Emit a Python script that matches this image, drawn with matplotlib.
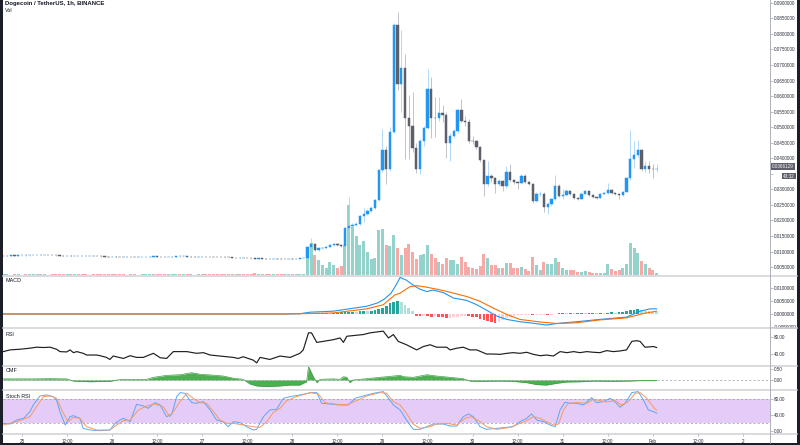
import numpy as np
import matplotlib
matplotlib.use("Agg")
import matplotlib.pyplot as plt
from matplotlib.patches import Rectangle
from matplotlib.lines import Line2D

plt.rcParams['font.family'] = ['Liberation Sans', 'DejaVu Sans']

# ---------------- data (hours counted from 25 Jan 00:00) ----------------
first_hour = -5
first_open = 0.00866

closes_before = [
    0.00868, 0.00870, 0.00873, 0.00872, 0.00875, 0.00877, 0.00876, 0.00879, 0.00881, 0.00883,
    0.00882, 0.00884, 0.00883, 0.00880, 0.00876, 0.00868, 0.00866, 0.00871, 0.00863, 0.00865,
    0.00860, 0.00856, 0.00852, 0.00853, 0.00850, 0.00848, 0.00845, 0.00838, 0.00832, 0.00840,
    0.00837, 0.00834, 0.00830, 0.00836, 0.00833, 0.00830, 0.00829, 0.00831, 0.00834, 0.00838,
    0.00841, 0.00830, 0.00826, 0.00824, 0.00832, 0.00840, 0.00842, 0.00841, 0.00843, 0.00840,
    0.00838, 0.00835, 0.00836, 0.00832, 0.00828, 0.00825, 0.00823, 0.00820, 0.00816, 0.00812,
    0.00810, 0.00806, 0.00800, 0.00803, 0.00798, 0.00790, 0.00780, 0.00768, 0.00778, 0.00775,
    0.00770, 0.00768, 0.00774, 0.00772, 0.00770, 0.00768, 0.00772, 0.00770, 0.00775, 0.00780,
    0.00782]
closes_rally = [
    0.0114, 0.0125, 0.0106, 0.0110, 0.0112, 0.0116, 0.0120, 0.0124, 0.0121, 0.0118,
    0.0175, 0.0183, 0.0186, 0.0190, 0.0215, 0.0222, 0.0231, 0.0241, 0.0265, 0.0361,
    0.0428, 0.0366, 0.0486, 0.0827, 0.0640, 0.0690, 0.0529, 0.0505, 0.0433, 0.0364,
    0.0456, 0.0497, 0.0622, 0.0531, 0.0528, 0.0545, 0.0540, 0.0449, 0.0473, 0.0488,
    0.0555, 0.0520, 0.0518, 0.0456, 0.0454, 0.0435, 0.0393, 0.0318, 0.0343, 0.0336,
    0.0316, 0.0327, 0.0311, 0.0355, 0.0329, 0.0323, 0.0321, 0.0343, 0.0324, 0.0318,
    0.0263, 0.0284, 0.0286, 0.0244, 0.0252, 0.0268, 0.0311, 0.0279, 0.0282, 0.0295,
    0.0286, 0.0273, 0.0270, 0.0286, 0.0295, 0.0282, 0.0276, 0.0273, 0.0286, 0.0288,
    0.0297, 0.0288, 0.0284, 0.0282, 0.0293, 0.0337, 0.0399, 0.0412, 0.0428, 0.0364,
    0.0375, 0.0367, 0.0364, 0.0366]

highs_before = [
    0.00876, 0.00877, 0.00880, 0.00879, 0.00882, 0.00884, 0.00883, 0.00886, 0.00888, 0.00890,
    0.00889, 0.00891, 0.00890, 0.00888, 0.00884, 0.00878, 0.00873, 0.00877, 0.00873, 0.00871,
    0.00867, 0.00862, 0.00858, 0.00859, 0.00856, 0.00854, 0.00851, 0.00847, 0.00841, 0.00846,
    0.00843, 0.00840, 0.00837, 0.00842, 0.00839, 0.00836, 0.00835, 0.00837, 0.00840, 0.00844,
    0.00847, 0.00842, 0.00832, 0.00830, 0.00838, 0.00846, 0.00848, 0.00847, 0.00849, 0.00846,
    0.00844, 0.00841, 0.00842, 0.00838, 0.00834, 0.00831, 0.00829, 0.00826, 0.00822, 0.00818,
    0.00816, 0.00812, 0.00807, 0.00809, 0.00805, 0.00799, 0.00791, 0.00781, 0.00784, 0.00781,
    0.00777, 0.00774, 0.00780, 0.00778, 0.00776, 0.00774, 0.00778, 0.00776, 0.00781, 0.00786,
    0.00790]
highs_rally = [
    0.0118, 0.0143, 0.0128, 0.0113, 0.0115, 0.0119, 0.0123, 0.0127, 0.0127, 0.0123,
    0.0178, 0.0276, 0.0192, 0.0196, 0.0218, 0.0241, 0.0236, 0.0245, 0.0268, 0.0365,
    0.0494, 0.0440, 0.0500, 0.0835, 0.0869, 0.0811, 0.0736, 0.0604, 0.0612, 0.0450,
    0.0462, 0.0505, 0.0688, 0.0662, 0.0598, 0.0598, 0.0570, 0.0548, 0.0480, 0.0495,
    0.0560, 0.0592, 0.0535, 0.0525, 0.0470, 0.0458, 0.0438, 0.0395, 0.0390, 0.0350,
    0.0340, 0.0332, 0.0330, 0.0375, 0.0380, 0.0332, 0.0328, 0.0348, 0.0350, 0.0326,
    0.0322, 0.0292, 0.0295, 0.0290, 0.0258, 0.0272, 0.0346, 0.0318, 0.0300, 0.0300,
    0.0298, 0.0288, 0.0276, 0.0290, 0.0299, 0.0298, 0.0284, 0.0279, 0.0289, 0.0292,
    0.0321, 0.0300, 0.0290, 0.0287, 0.0296, 0.0340, 0.0492, 0.0454, 0.0460, 0.0431,
    0.0390, 0.0390, 0.0380, 0.0380]

lows_before = [
    0.00862, 0.00864, 0.00866, 0.00866, 0.00869, 0.00871, 0.00870, 0.00872, 0.00875, 0.00877,
    0.00876, 0.00878, 0.00877, 0.00874, 0.00870, 0.00862, 0.00860, 0.00864, 0.00857, 0.00858,
    0.00854, 0.00850, 0.00846, 0.00847, 0.00844, 0.00842, 0.00839, 0.00832, 0.00826, 0.00831,
    0.00831, 0.00828, 0.00824, 0.00829, 0.00827, 0.00824, 0.00823, 0.00825, 0.00828, 0.00832,
    0.00835, 0.00824, 0.00820, 0.00818, 0.00823, 0.00832, 0.00836, 0.00835, 0.00837, 0.00834,
    0.00832, 0.00829, 0.00830, 0.00826, 0.00822, 0.00819, 0.00817, 0.00814, 0.00810, 0.00806,
    0.00804, 0.00800, 0.00794, 0.00796, 0.00792, 0.00784, 0.00774, 0.00760, 0.00765, 0.00768,
    0.00764, 0.00762, 0.00766, 0.00766, 0.00764, 0.00762, 0.00765, 0.00764, 0.00768, 0.00773,
    0.00776]
lows_rally = [
    0.0077, 0.0108, 0.0102, 0.0103, 0.0107, 0.0110, 0.0114, 0.0118, 0.0118, 0.0115,
    0.0116, 0.0172, 0.0178, 0.0183, 0.0186, 0.0194, 0.0218, 0.0228, 0.0238, 0.0262,
    0.0355, 0.0316, 0.0360, 0.0480, 0.0620, 0.0550, 0.0396, 0.0396, 0.0420, 0.0353,
    0.0348, 0.0440, 0.0495, 0.0465, 0.0467, 0.0520, 0.0515, 0.0401, 0.0390, 0.0465,
    0.0480, 0.0515, 0.0505, 0.0450, 0.0445, 0.0430, 0.0388, 0.0279, 0.0312, 0.0325,
    0.0289, 0.0312, 0.0295, 0.0305, 0.0325, 0.0318, 0.0300, 0.0318, 0.0320, 0.0314,
    0.0257, 0.0258, 0.0278, 0.0226, 0.0220, 0.0248, 0.0265, 0.0275, 0.0268, 0.0280,
    0.0283, 0.0270, 0.0265, 0.0268, 0.0284, 0.0279, 0.0273, 0.0270, 0.0271, 0.0284,
    0.0285, 0.0285, 0.0281, 0.0268, 0.0280, 0.0290, 0.0330, 0.0369, 0.0405, 0.0359,
    0.0355, 0.0353, 0.0337, 0.0356]

# volume in millions of DOGE
volumes_before = [
    25, 22, 18, 28, 25, 18, 22, 25, 30, 28,
    25, 22, 18, 25, 33, 42, 30, 25, 36, 28,
    25, 22, 25, 18, 22, 25, 28, 36, 42, 30,
    25, 22, 25, 18, 22, 25, 18, 22, 28, 33,
    30, 36, 33, 28, 36, 42, 30, 25, 22, 25,
    22, 18, 22, 25, 28, 25, 22, 25, 28, 30,
    28, 30, 36, 28, 30, 42, 55, 65, 42, 30,
    28, 33, 36, 30, 28, 30, 33, 36, 42, 48,
    55]
volumes_rally = [
    1133, 1267, 800, 600, 400, 267, 507, 400, 293, 373,
    1200, 2800, 1933, 1560, 1200, 1373, 907, 627, 667, 1800,
    1840, 1200, 1160, 1600, 1067, 800, 1067, 1240, 933, 627,
    800, 840, 1200, 840, 667, 507, 427, 693, 600, 600,
    440, 707, 533, 333, 293, 227, 360, 827, 667, 387,
    387, 293, 267, 480, 467, 267, 267, 320, 227, 160,
    720, 387, 213, 520, 427, 427, 693, 520, 293, 187,
    200, 200, 133, 133, 160, 133, 93, 93, 93, 93,
    427, 227, 160, 187, 293, 427, 1267, 1093, 893, 560,
    427, 267, 187, 67]

# MACD (12, 26, 9)
macd_hours = [-5, 20, 50, 70, 74, 76.7, 82.9, 91.8, 94.7, 96.5, 98.3, 99.6, 100.7, 102.4, 104.2,
              106.0, 107.8, 109.5, 112.2, 114.9, 118.4, 121.1, 123.7, 126.4, 129.1, 132.6, 136.2,
              139.7, 142.4, 147.7, 153.9, 161.0, 164.6, 167.3, 169.0]
macd_line = [0.0, 0.0, 0.0, 0.0, 0.0001, 0.0007, 0.0011, 0.0030, 0.0043, 0.0058, 0.0081, 0.0112,
             0.0142, 0.0131, 0.0112, 0.0096, 0.0087, 0.0093, 0.0083, 0.0062, 0.0053, 0.0036, 0.0015,
             -0.0008, -0.0021, -0.0030, -0.0036, -0.0043, -0.0037, -0.0030, -0.0021, -0.0012,
             0.0011, 0.0020, 0.0020]
signal_hours = [-5, 20, 50, 70, 76.7, 82.9, 91.8, 96.2, 99.3, 100.7, 103.3, 105.1, 107.8, 112.2,
                118.4, 122.0, 125.5, 129.1, 132.6, 138.0, 142.4, 147.7, 153.9, 161.0, 165.5, 169.0]
signal_line = [0.0, 0.0, 0.0, 0.0, 0.0002, 0.0004, 0.0020, 0.0036, 0.0074, 0.0081, 0.0106, 0.0110,
               0.0104, 0.0091, 0.0068, 0.0049, 0.0023, -0.0002, -0.0021, -0.0031, -0.0037, -0.0034,
               -0.0023, -0.0015, 0.0002, 0.0011]
hist_first_hour = 76
hist_values = [
    0.0001, 0.0002, 0.0002, 0.0003, 0.0004, 0.0004, 0.0003, 0.0004, 0.0005, 0.0006,
    0.0008, 0.0009, 0.0009, 0.0008, 0.0010, 0.0011, 0.0010, 0.0012, 0.0016, 0.0020,
    0.0025, 0.0031, 0.0042, 0.0048, 0.0050, 0.0046, 0.0036, 0.0023, 0.0010, -0.0006,
    -0.0008, -0.0007, -0.0009, -0.0010, -0.0009, -0.0011, -0.0013, -0.0015, -0.0014, -0.0012,
    -0.0010, -0.0008, -0.0007, -0.0008, -0.0010, -0.0013, -0.0018, -0.0024, -0.0029, -0.0033,
    -0.0035, -0.0031, -0.0024, -0.0017, -0.0011, -0.0007, -0.0005, -0.0004, -0.0004, -0.0003,
    -0.0005, -0.0004, -0.0003, -0.0002, -0.0003, -0.0002, -0.0001, 0.0002, 0.0004, 0.0003,
    0.0004, 0.0003, 0.0004, 0.0005, 0.0004, 0.0004, 0.0005, 0.0004, 0.0005, 0.0004,
    0.0005, 0.0006, 0.0005, 0.0006, 0.0008, 0.0011, 0.0014, 0.0016, 0.0018, 0.0017,
    0.0013, 0.0010, 0.0008, 0.0007]

# RSI (14)
rsi_hours = [-5.0, -3.2, -0.5, 2.1, 3.9, 5.7, 7.5, 8.3, 9.2, 10.1, 11.9, 12.8, 13.7, 14.6, 16.3,
             17.2, 19.9, 20.8, 22.5, 23.4, 24.3, 27.0, 28.8, 30.5, 32.3, 33.2, 35.0, 36.8, 38.5,
             40.3, 42.1, 43.9, 46.5, 48.3, 50.1, 52.7, 56.3, 57.6, 58.9, 61.6, 62.5, 63.4, 66.0,
             68.7, 71.4, 74.0, 74.9, 76.3, 77.1, 78.5, 80.2, 82.9, 84.7, 85.6, 86.5, 88.2, 90.9,
             92.7, 96.2, 97.6, 98.9, 100.2, 102.4, 105.1, 106.9, 108.7, 110.4, 113.1, 114.0,
             115.8, 117.5, 119.3, 121.1, 123.7, 125.5, 127.3, 129.1, 130.8, 132.6, 134.4, 136.2,
             138.0, 139.7, 141.5, 143.3, 145.1, 146.9, 148.6, 150.4, 152.2, 153.9, 155.7, 157.5,
             159.3, 161.0, 162.4, 163.7, 164.6, 165.9, 168.2, 169.0]
rsi_values = [45.7, 49.8, 51.4, 53.9, 56.3, 55.5, 56.3, 53.9, 51.4, 45.7, 44.9, 49.8, 43.2, 45.7,
              41.6, 37.5, 37.5, 35.9, 31.8, 26.9, 35.1, 29.3, 35.9, 31.8, 31.8, 35.1, 41.6, 31.0,
              29.3, 45.7, 45.7, 45.7, 41.6, 43.2, 37.5, 35.1, 31.8, 29.3, 33.4, 25.2, 18.7, 31.8,
              26.9, 35.1, 31.8, 41.6, 49.8, 90.7, 90.7, 67.8, 70.2, 74.3, 78.4, 67.8, 82.5, 84.1,
              86.6, 90.7, 94.8, 78.4, 86.6, 70.2, 62.1, 49.8, 57.9, 62.1, 56.3, 56.3, 49.8, 53.9,
              56.3, 49.8, 49.8, 39.9, 39.9, 39.1, 41.6, 43.2, 41.6, 44.1, 39.1, 35.9, 37.5, 35.1,
              45.7, 43.2, 45.7, 43.2, 45.7, 44.1, 43.2, 48.1, 45.7, 47.3, 49.8, 70.2, 71.9, 70.2,
              56.3, 57.9, 55.5]

# Chaikin money flow (20)
cmf_hours = [-5.0, 3.0, 7.5, 11.9, 13.7, 18.1, 23.4, 26.1, 33.2, 35.0, 38.5, 42.1, 45.2, 47.4,
             50.1, 53.6, 56.3, 58.9, 60.7, 62.5, 65.2, 68.7, 71.4, 74.0, 74.9, 75.8, 76.3, 77.6,
             78.5, 79.4, 82.9, 84.7, 85.6, 86.5, 87.3, 88.2, 91.8, 95.3, 98.9, 100.7, 101.6,
             104.2, 107.8, 110.4, 114.0, 117.5, 119.3, 122.0, 127.3, 130.8, 134.4, 137.1, 139.7,
             142.4, 145.1, 148.6, 152.2, 157.5, 161.0, 164.6, 169.0]
cmf_values = [0.05, 0.05, 0.06, 0.05, -0.05, -0.08, -0.06, 0.02, 0.03, 0.12, 0.21, 0.24, 0.33,
              0.26, 0.23, 0.18, 0.08, 0.03, -0.18, -0.27, -0.30, -0.27, -0.23, -0.23, -0.15,
              -0.08, 0.61, 0.15, -0.12, 0.03, 0.05, 0.03, 0.15, 0.12, -0.12, 0.0, 0.06, 0.12,
              0.18, 0.21, 0.15, 0.12, 0.24, 0.18, 0.12, 0.06, -0.05, -0.06, -0.05, -0.06, -0.12,
              -0.21, -0.23, -0.15, -0.09, -0.08, -0.05, -0.06, -0.05, -0.03, -0.03]

# Stochastic RSI (3, 3, 14, 14)
k_hours = [-5.0, -3.2, -1.4, 0.4, 2.1, 3.0, 4.8, 6.6, 8.3, 9.2,
           10.1, 11.5, 12.8, 13.7, 15.4, 16.3, 18.1, 20.8, 23.4, 24.8,
           26.1, 27.0, 28.8, 30.5, 32.3, 33.6, 35.4, 36.8, 38.5, 39.9,
           41.2, 42.1, 43.4, 45.2, 46.5, 48.3, 50.1, 51.8, 53.6, 54.9,
           56.3, 58.1, 59.8, 61.6, 62.5, 64.3, 66.0, 67.8, 69.6, 71.4,
           74.0, 77.1, 78.5, 79.8, 82.0, 84.7, 86.9, 88.7, 90.9, 93.6,
           96.2, 97.6, 98.9, 100.7, 102.4, 104.2, 106.0, 107.8, 109.5, 112.2,
           114.0, 115.8, 117.5, 118.9, 120.2, 122.0, 123.7, 126.4, 129.1, 130.8,
           132.6, 134.4, 135.7, 137.1, 138.9, 140.6, 142.0, 143.3, 144.6, 146.0,
           147.7, 149.5, 151.7, 153.0, 154.8, 156.6, 157.9, 159.3, 160.6, 162.4,
           164.1, 165.5, 166.8, 168.2, 169.0]
k_values = [18.7, 17.0, 27.2, 31.5, 48.5, 65.5, 88.5, 91.1, 86.8, 78.3,
            48.5, 14.5, 35.7, 38.3, 31.5, 6.0, 1.7, 0.0, 1.7, 18.7,
            27.2, 31.5, 23.0, 67.2, 63.0, 57.0, 71.5, 65.5, 35.7, 42.6,
            86.8, 97.0, 95.3, 71.5, 69.8, 74.0, 52.8, 27.2, 23.0, 10.2,
            23.0, 20.4, 10.2, 1.7, 3.4, 35.7, 52.8, 54.5, 82.5, 86.8,
            91.1, 97.0, 97.0, 69.8, 68.1, 65.5, 65.5, 82.5, 88.5, 95.3,
            99.6, 82.5, 65.5, 52.8, 27.2, 3.4, 3.4, 10.2, 17.0, 17.0,
            11.9, 11.9, 35.7, 42.6, 35.7, 10.2, 3.4, 6.0, 8.5, 10.2,
            23.0, 31.5, 42.6, 27.2, 23.0, 14.5, 10.2, 52.8, 72.3, 69.8,
            69.8, 65.5, 84.2, 71.5, 74.0, 82.5, 74.0, 59.6, 69.8, 97.0,
            99.6, 78.3, 52.8, 48.5, 44.3]
d_hours = [-5.0, -1.4, 2.1, 3.9, 5.7, 7.5, 9.2, 11.0, 12.3, 13.7,
           15.4, 17.2, 19.9, 23.4, 25.2, 27.0, 28.8, 31.0, 33.2, 35.4,
           37.6, 39.4, 42.1, 43.9, 45.6, 47.4, 49.2, 51.0, 52.7, 54.5,
           56.3, 58.9, 61.6, 63.4, 65.2, 66.9, 68.7, 70.5, 73.1, 76.7,
           78.9, 80.7, 82.9, 86.5, 89.1, 91.8, 95.3, 97.1, 98.9, 100.7,
           102.4, 104.2, 106.0, 108.7, 110.4, 113.1, 115.8, 118.0, 119.7, 122.0,
           123.7, 126.4, 130.0, 132.6, 134.4, 136.2, 138.0, 139.7, 141.5, 142.9,
           144.2, 145.5, 147.7, 150.4, 152.2, 153.9, 155.7, 157.9, 159.7, 161.5,
           163.3, 164.6, 166.4, 168.2, 169.0]
d_values = [14.5, 23.0, 35.7, 61.3, 86.8, 88.5, 82.5, 44.3, 23.0, 34.0,
            31.5, 10.2, 1.7, 1.7, 14.5, 25.5, 27.2, 52.8, 63.0, 68.1,
            61.3, 35.7, 74.0, 95.3, 82.5, 71.5, 69.8, 48.5, 27.2, 18.7,
            18.7, 14.5, 10.2, 8.5, 23.0, 46.0, 57.0, 76.6, 86.8, 97.0,
            93.6, 71.5, 68.1, 65.5, 76.6, 88.5, 97.0, 95.3, 74.0, 65.5,
            44.3, 17.0, 6.0, 10.2, 17.0, 18.7, 14.5, 31.5, 35.7, 23.0,
            10.2, 3.4, 8.5, 18.7, 25.5, 35.7, 31.5, 23.0, 14.5, 17.0,
            52.8, 69.8, 71.5, 69.8, 80.0, 76.6, 73.2, 76.6, 65.5, 74.0,
            95.3, 97.0, 82.5, 59.6, 52.0]

time_tick_hours = [0, 12, 24, 36, 48, 60, 72, 84, 96, 108, 120, 132, 144, 156, 168, 180, 192]
time_tick_labels = ['25', '12:00', '26', '12:00', '27', '12:00', '28', '12:00', '29', '12:00',
                    '30', '12:00', '31', '12:00', 'Feb', '12:00', '2']
price_ticks = [0.005, 0.010, 0.015, 0.020, 0.025, 0.030, 0.035, 0.040, 0.045, 0.050, 0.055,
               0.060, 0.065, 0.070, 0.075, 0.080, 0.085, 0.090]
last_price_text = '0.0366129'
countdown_text = '43:32'
title_text = 'Dogecoin / TetherUS, 1h, BINANCE'

# ---------------- figure ----------------
W, H = 800, 445
fig = plt.figure(figsize=(8, 4.45), dpi=100, facecolor='#1c1f27')
fig.patches.append(Rectangle((3 / W, 2 / H), 794 / W, 443 / H, transform=fig.transFigure,
                             facecolor='white', edgecolor='none', zorder=-10))

X0, X1 = 3, 770
XMIN, XMAX = -5.06, 199.2
TXT = '#2a2e39'
TICKC = '#a3a6af'
LS = 3.3


def add_panel(ytop, ybot):
    a = fig.add_axes([X0 / W, 1 - ybot / H, (X1 - X0) / W, (ybot - ytop) / H])
    a.set_facecolor('none')
    for s in a.spines.values():
        s.set_visible(False)
    a.set_xlim(XMIN, XMAX)
    a.set_xticks([])
    return a


def right_ticks(a, ticks, fmt, hidden=()):
    a.yaxis.tick_right()
    a.set_yticks(ticks)
    a.set_yticklabels(['' if t in hidden else fmt % t for t in ticks])
    a.tick_params(axis='y', which='both', right=True, left=False, direction='out', length=2,
                  width=0.5, color=TICKC, labelsize=LS, labelcolor=TXT, pad=1)


# main pane: volume underneath, candles on twin axis
axv = add_panel(0, 275)
axv.set_yticks([])
axv.set_ylim(0, 11000)
axp = axv.twinx()
axp.set_facecolor('none')
for s in axp.spines.values():
    s.set_visible(False)
axp.set_xlim(XMIN, XMAX)
axp.set_ylim(0.00245, 0.0909)
# the 0.035 label sits under the last-price tag
right_ticks(axp, price_ticks, '%.7f', hidden=(0.035,))

closes = np.array(closes_before + closes_rally)
highs = np.array(highs_before + highs_rally)
lows = np.array(lows_before + lows_rally)
volumes = np.array(volumes_before + volumes_rally)
hours = first_hour + np.arange(len(closes))
opens = np.r_[first_open, closes[:-1]]
up = closes >= opens

vol_cols = np.where(up, '#93d3cc', '#f7a9a7')
axv.bar(hours, volumes, width=0.8, color=vol_cols, linewidth=0, zorder=1)

body_cols = np.where(up, '#2196f3', '#5d606b')
wick_cols = np.where(up, '#a6d2f8', '#b7b9bf')
axp.vlines(hours, lows, highs, colors=wick_cols, linewidth=0.6, zorder=2)
axp.bar(hours, np.abs(closes - opens), bottom=np.minimum(opens, closes), width=0.62,
        color=body_cols, edgecolor=body_cols, linewidth=0.35, zorder=3)

# MACD
axm = add_panel(276, 327)
axm.set_ylim(-0.00505, 0.01475)
hist = np.array(hist_values)
hist_hours = hist_first_hour + np.arange(len(hist))
prev = np.r_[0.0, hist[:-1]]
hcols = np.where(hist >= 0, np.where(hist >= prev, '#26a69a', '#b2dfdb'),
                 np.where(hist < prev, '#ff5252', '#ffcdd2'))
axm.bar(hist_hours, hist, width=0.72, color=hcols, linewidth=0, zorder=1)
axm.plot(macd_hours, macd_line, color='#2196f3', lw=0.8, zorder=2)
axm.plot(signal_hours, signal_line, color='#ff6d00', lw=0.8, zorder=3)
right_ticks(axm, [-0.005, 0.0, 0.005, 0.010], '%.7f')

# RSI
axr = add_panel(329, 365)
axr.set_ylim(13.6, 99.9)
axr.plot(rsi_hours, rsi_values, color='#1f1f1f', lw=0.85)
right_ticks(axr, [40, 80], '%.2f')

# CMF
axc = add_panel(366, 389)
axc.set_ylim(-0.41, 0.636)
axc.axhline(0, color='#9598a1', lw=0.5, ls=(0, (3, 3)))
axc.fill_between(cmf_hours, 0, cmf_values, color='#4caf50', linewidth=0)
axc.plot(cmf_hours, cmf_values, color='#43a047', lw=0.5)
right_ticks(axc, [0.0, 0.5], '%.2f')

# Stoch RSI
axs = add_panel(390, 433)
axs.set_ylim(-5.9, 103.7)
axs.axhspan(20, 80, color='#e5cbf8', linewidth=0, zorder=0)
axs.axhline(80, color='#9598a1', lw=0.5, ls=(0, (3, 3)), zorder=1)
axs.axhline(20, color='#9598a1', lw=0.5, ls=(0, (3, 3)), zorder=1)
axs.plot(k_hours, k_values, color='#5aa8f5', lw=0.7, zorder=2)
axs.plot(d_hours, d_values, color='#f59a62', lw=0.7, zorder=3)
right_ticks(axs, [0, 40, 80], '%.2f')
axs.set_xticks(time_tick_hours)
axs.set_xticklabels(time_tick_labels)
axs.tick_params(axis='x', direction='out', length=2, width=0.5, color=TICKC,
                labelsize=LS, labelcolor=TXT, pad=2)

# separators
for yy in (275.5, 328, 365.5, 389.5, 433.5):
    fig.add_artist(Line2D([3 / W, 797 / W], [1 - yy / H, 1 - yy / H], color='#cfd1d6',
                          lw=1.1, transform=fig.transFigure))
fig.add_artist(Line2D([X1 / W, X1 / W], [2 / H, 1], color='#a3a6af', lw=0.6,
                      transform=fig.transFigure))

# texts
fig.text(5 / W, 1 - 4 / H, title_text, fontsize=4.3, fontweight='bold', color='#131722',
         ha='left', va='center')
fig.text(5 / W, 1 - 10.5 / H, 'Vol', fontsize=3.9, color='#131722', ha='left', va='center')
for label, yy in (('MACD', 281), ('RSI', 335), ('CMF', 371), ('Stoch RSI', 396)):
    fig.text(6 / W, 1 - yy / H, label, fontsize=3.9, color='#131722', ha='left', va='center')

fig.text(772 / W, 1 - 166.5 / H, last_price_text, fontsize=LS, color='white', ha='left',
         va='center', bbox=dict(boxstyle='square,pad=0.2', fc='#5d606b', ec='none'))
fig.text(783 / W, 1 - 176 / H, countdown_text, fontsize=LS, color='white', ha='left',
         va='center', bbox=dict(boxstyle='square,pad=0.2', fc='#5d606b', ec='none'))

fig.savefig('out.png', dpi=100, facecolor=fig.get_facecolor())
